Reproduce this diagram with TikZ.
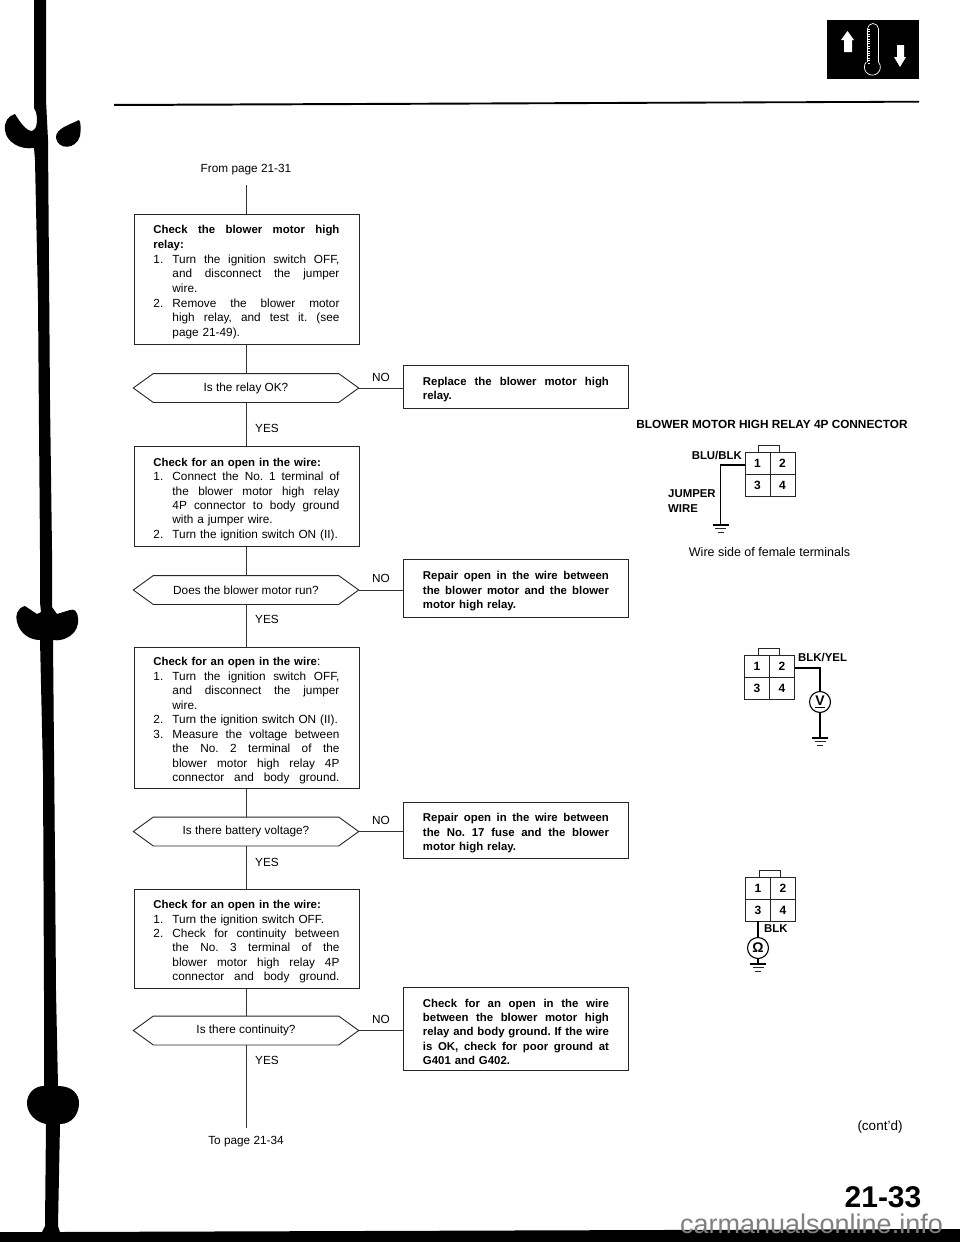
\documentclass[tikz,border=0pt]{standalone}
\usepackage{fontspec}
\setmainfont{Liberation Sans}
\usetikzlibrary{calc}
\newcommand{\bfs}{\fontsize{11.4}{14.45}\bfseries\selectfont}
\newcommand{\plainsp}{\spaceskip=0pt\xspaceskip=0pt\relax}
\newcommand{\hdl}[1]{\makebox[186pt][s]{\plainsp\bfs #1}}
\newcommand{\nls}[2]{\makebox[19pt][l]{#1}\makebox[167pt][s]{\plainsp #2}}
\newcommand{\cls}[1]{\hspace*{19pt}\makebox[167pt][s]{\plainsp #1}}
\newcommand{\cln}[1]{\hspace*{19pt}#1}
\newcommand{\bln}[1]{{\bfs #1}}
\newcommand{\hexa}[3]{%
  \node[hexlabel] (#1) at (246,#2) {#3};
  \draw[boxline] (#1.west) -- ([xshift=20]#1.north west) -- ([xshift=-20]#1.north east) -- (#1.east) -- ([xshift=-20]#1.south east) -- ([xshift=20]#1.south west) -- cycle;}
\newcommand{\connector}[3]{%
  \node[connbody] (#1) at (#2,#3) {};
  \draw[thinwire] (#1.north) -- (#1.south) (#1.west) -- (#1.east);
  \draw[thinwire] ([xshift=14]#1.north west) -- ++(0,-6) -- ++(21,0) -- ++(0,6);
  \node[pinnum] (#1-1) at ($(#1.center)+(-12.5,-11)$) {1};
  \node[pinnum] (#1-2) at ($(#1.center)+(12.5,-11)$) {2};
  \node[pinnum] (#1-3) at ($(#1.center)+(-12.5,11)$) {3};
  \node[pinnum] (#1-4) at ($(#1.center)+(12.5,11)$) {4};}
\newcommand{\ground}[1]{%
  \draw[wire] ($(#1)+(-8,0)$) -- ($(#1)+(8,0)$);
  \draw[thinwire] ($(#1)+(-5.5,3.5)$) -- ($(#1)+(5.5,3.5)$);
  \draw[thinwire] ($(#1)+(-3,7)$) -- ($(#1)+(3,7)$);}
\tikzset{
  x=1pt,y=-1pt,
  txt/.style={font=\fontsize{11.8}{14.45}\selectfont\frenchspacing,inner sep=0pt},
  boxline/.style={draw=black!85,line width=0.9pt},
  link/.style={draw=black!80,line width=0.9pt},
  wire/.style={draw=black,line width=1.1pt},
  thinwire/.style={draw=black!85,line width=0.8pt},
  stepbox/.style={txt,boxline,fill=white,anchor=north west,minimum width=225pt,text width=186pt,inner xsep=19.5pt,inner ysep=0pt,align=left,execute at begin node={\rule{0pt}{14pt}}},
  hexlabel/.style={txt,minimum width=225pt,minimum height=28.5pt,inner sep=0pt},
  answer/.style={txt},
  connbody/.style={thinwire,minimum width=50pt,minimum height=44pt,inner sep=0pt},
  pinnum/.style={font=\fontsize{12}{13}\bfseries\selectfont,inner sep=0pt},
  wirelabel/.style={font=\fontsize{11.4}{14}\bfseries\selectfont,inner sep=0pt},
  meter/.style={draw=black,line width=1.1pt,circle,minimum size=21pt,inner sep=0pt,fill=white,font=\fontsize{14}{15}\bfseries\selectfont},
}
\begin{document}
\begin{tikzpicture}
\useasboundingbox (0,0) rectangle (960,1242);
\fill[white] (0,0) rectangle (960,1242);
% binding
\fill[black] (34,0) -- (34,108) -- (36,112) .. controls (38,120) and (37,130) .. (32,131) .. controls (26,131) and (20,122) .. (15,114)
  .. controls (8,116) and (4,122) .. (5,130) .. controls (6,142) and (20,150) .. (34,148)
  -- (35,160) -- (38,300) -- (40,550) -- (40,602) -- (41,612) -- (37,614) -- (25,606)
  .. controls (17,608) and (15,616) .. (17,622) .. controls (20,634) and (30,640) .. (40,640)
  -- (43,771) -- (44,991) -- (44,1086) .. controls (34,1086) and (27,1094) .. (27,1103) .. controls (27,1114) and (36,1122) .. (46,1124)
  -- (45,1226) -- (42,1232) -- (0,1232) -- (0,1242) -- (960,1242) -- (960,1229) -- (60,1232) -- (58,1226) -- (60,1124)
  .. controls (72,1124) and (79,1114) .. (79,1103) .. controls (79,1094) and (72,1086) .. (58,1086)
  -- (56,991) -- (55,859) -- (53,640) .. controls (64,642) and (80,634) .. (78,618) .. controls (77,610) and (74,609) .. (70,610)
  -- (57,614) -- (52,607) -- (52,550) -- (50,400) -- (48,140) -- (47,120) -- (46,100) -- (46,0) -- cycle;
\fill[black] (79,120) .. controls (72,124) and (55,128) .. (56,138) .. controls (58,150) and (76,150) .. (80,136) .. controls (81,130) and (81,122) .. (79,120) -- cycle;
% header rule
\fill[black] (114,104) -- (919,100.8) -- (919,102.6) -- (114,106) -- cycle;
% icon
\fill[black] (827,20) rectangle (919,79);
\fill[white] (847.5,31) -- (854,40) -- (852,40) -- (852,52) -- (844,52) -- (844,40) -- (841,40) -- cycle;
\fill[white] (900,67) -- (906,57) -- (904,57) -- (904,45) -- (897,45) -- (897,57) -- (894,57) -- cycle;
\draw[white,line width=0.7pt] (867.5,62) -- (867.5,29) arc[start angle=180,end angle=0,radius=5.5pt] -- (878.5,62) arc[start angle=40,end angle=-220,radius=8pt];
\draw[white,line width=1.6pt,dash pattern=on 0.8pt off 1.6pt] (869,29) -- (869,64);
% flow chart
\node[txt] (from) at (246,170) {From page 21-31};
\coordinate (fromend) at (246,185);
\node[stepbox,minimum height=130pt,font=\fontsize{11.8}{14.7}\selectfont\frenchspacing] (b1) at (133.5,214) {\hdl{Check the blower motor high}\\\bln{relay:}\\
\nls{1.}{Turn the ignition switch OFF,}\\\cls{and disconnect the jumper}\\\cln{wire.}\\
\nls{2.}{Remove the blower motor}\\\cls{high relay, and test it. (see}\\\cln{page 21-49).}};
\hexa{h1}{388}{Is the relay OK?}
\node[stepbox,minimum height=43pt] (r1) at (403,365) {\hdl{Replace the blower motor high}\\\bln{relay.}};
\node[stepbox,minimum height=100pt] (b2) at (133.5,446) {\bln{Check for an open in the wire:}\\
\nls{1.}{Connect the No. 1 terminal of}\\\cls{the blower motor high relay}\\\cls{4P connector to body ground}\\\cln{with a jumper wire.}\\
\makebox[19pt][l]{2.}Turn the ignition switch ON (II).};
\hexa{h2}{590}{Does the blower motor run?}
\node[stepbox,minimum height=58pt] (r2) at (403,559) {\hdl{Repair open in the wire between}\\\hdl{the blower motor and the blower}\\\bln{motor high relay.}};
\node[stepbox,minimum height=141pt] (b3) at (133.5,647) {\bln{Check for an open in the wire}:\\
\nls{1.}{Turn the ignition switch OFF,}\\\cls{and disconnect the jumper}\\\cln{wire.}\\
\makebox[19pt][l]{2.}Turn the ignition switch ON (II).\\
\nls{3.}{Measure the voltage between}\\\cls{the No. 2 terminal of the}\\\cls{blower motor high relay 4P}\\\cls{connector and body ground.}};
\hexa{h3}{831.5}{Is there battery voltage?}
\node[stepbox,minimum height=56pt] (r3) at (403,802) {\hdl{Repair open in the wire between}\\\hdl{the No. 17 fuse and the blower}\\\bln{motor high relay.}};
\node[stepbox,minimum height=99pt] (b4) at (133.5,889) {\bln{Check for an open in the wire:}\\
\makebox[19pt][l]{1.}Turn the ignition switch OFF.\\\nls{2.}{Check for continuity between}\\\cls{the No. 3 terminal of the}\\\cls{blower motor high relay 4P}\\\cls{connector and body ground.}};
\hexa{h4}{1030.5}{Is there continuity?}
\node[stepbox,minimum height=83pt] (r4) at (403,987) {\hdl{Check for an open in the wire}\\\hdl{between the blower motor high}\\\hdl{relay and body ground. If the wire}\\\hdl{is OK, check for poor ground at}\\\bln{G401 and G402.}};
\coordinate (toend) at (246,1128);
\node[txt] (topage) at (246,1142) {To page 21-34};
\draw[link] (fromend) -- (b1.north -| fromend);
\draw[link] (b1.south -| fromend) -- (h1.north);
\draw[link] (h1.south) -- (b2.north -| h1.south);
\draw[link] (b2.south -| h1.south) -- (h2.north);
\draw[link] (h2.south) -- (b3.north -| h2.south);
\draw[link] (b3.south -| h2.south) -- (h3.north);
\draw[link] (h3.south) -- (b4.north -| h3.south);
\draw[link] (b4.south -| h3.south) -- (h4.north);
\draw[link] (h4.south) -- (toend);
\draw[link] (h1.east) -- (h1.east -| r1.west);
\draw[link] (h2.east) -- (h2.east -| r2.west);
\draw[link] (h3.east) -- (h3.east -| r3.west);
\draw[link] (h4.east) -- (h4.east -| r4.west);
\foreach \n/\yn/\yy in {a/377/428,b/578/619,c/820/862,d/1019/1060}{
  \node[answer] (no\n) at (381,\yn) {NO};
  \node[answer] (yes\n) at (267,\yy) {YES};
}
% connector 1
\node[font=\fontsize{11.8}{14}\bfseries\selectfont,inner sep=0pt] (title) at (772,424) {BLOWER MOTOR HIGH RELAY 4P CONNECTOR};
\connector{ca}{770}{474}
\node[wirelabel,anchor=east] (blu) at (742,455) {BLU/BLK};
\node[wirelabel,anchor=west,align=left,font=\fontsize{11.4}{14.2}\bfseries\selectfont] (jump) at (668,501) {JUMPER\\WIRE};
\coordinate (gnda) at (720.5,525);
\draw[wire] ($(ca.north west)!0.3!(ca.south west)$) -| (gnda);
\ground{gnda}
\node[font=\fontsize{12.5}{14}\selectfont,inner sep=0pt] (side) at (769.5,552) {Wire side of female terminals};
% connector 2
\connector{cb}{769.5}{677}
\node[wirelabel,anchor=west] (byel) at (798,657) {BLK/YEL};
\node[meter] (mv) at (820,702) {\raisebox{1pt}{\underline{V}}};
\coordinate (gndb) at (820,738);
\draw[wire] ($(cb.north east)!0.3!(cb.south east)$) -| (mv.north);
\draw[wire] (mv.south) -- (gndb);
\ground{gndb}
% connector 3
\connector{cc}{770.5}{899}
\node[wirelabel,anchor=west] (blk) at (764,929) {BLK};
\node[meter] (mo) at (758,948) {Ω};
\coordinate (gndc) at (758,964);
\draw[wire] (mo.north |- cc.south) -- (mo.north);
\draw[wire] (mo.south) -- (gndc);
\ground{gndc}
% footer
\node[font=\fontsize{13.5}{15}\selectfont,inner sep=0pt] (cont) at (880,1127) {(cont'd)};
\node[font=\fontsize{30}{31}\bfseries\selectfont,inner sep=0pt,anchor=base] (pg) at (883,1207) {21-33};
\node[font=\fontsize{27}{28}\selectfont,inner sep=0pt,anchor=base,text=black!50] (mark) at (811.5,1233) {carmanualsonline.info};
\end{tikzpicture}
\end{document}
